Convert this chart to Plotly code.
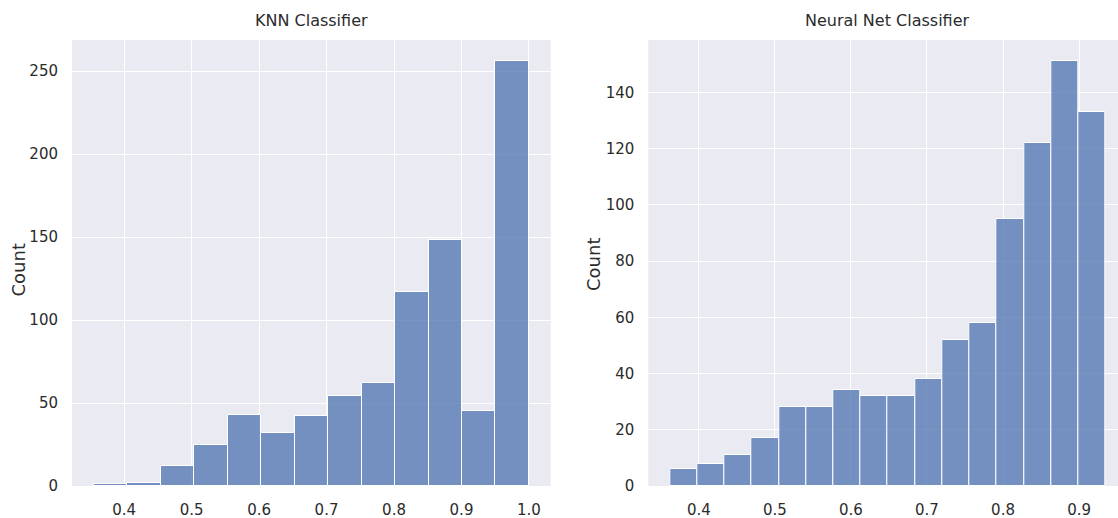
import numpy as np
import plotly.graph_objects as go

# ---- data ----
knn_title = "KNN Classifier"
knn_bin_min, knn_bin_max = 0.355, 1.0
knn_counts = [1, 2, 12, 25, 43, 32, 42, 54, 62, 117, 148, 45, 256]
knn_yticks = [0, 50, 100, 150, 200, 250]
knn_xticks = [0.4, 0.5, 0.6, 0.7, 0.8, 0.9, 1.0]

nn_title = "Neural Net Classifier"
nn_bin_min, nn_bin_max = 0.3622, 0.9347
nn_counts = [6, 8, 11, 17, 28, 28, 34, 32, 32, 38, 52, 58, 95, 122, 151, 133]
nn_yticks = [0, 20, 40, 60, 80, 100, 120, 140]
nn_xticks = [0.4, 0.5, 0.6, 0.7, 0.8, 0.9]

W, H = 1118, 518
BG = "#eaeaf2"
BAR = "rgba(76,114,176,0.75)"
TXT = "#2b2b2b"
FAM = "DejaVu Sans"
TICKFONT = dict(family=FAM, size=15, color=TXT)


def bars(counts, lo, hi, xa, ya):
    edges = np.linspace(lo, hi, len(counts) + 1)
    centers = (edges[:-1] + edges[1:]) / 2
    width = edges[1] - edges[0]
    return go.Bar(x=centers, y=counts, width=width, xaxis=xa, yaxis=ya,
                  marker=dict(color=BAR, line=dict(color="white", width=1)),
                  showlegend=False, hoverinfo="x+y")


fig = go.Figure()
fig.add_trace(bars(knn_counts, knn_bin_min, knn_bin_max, "x", "y"))
fig.add_trace(bars(nn_counts, nn_bin_min, nn_bin_max, "x2", "y2"))

ytop = 1 - 40 / H
ybot = 1 - 486 / H


def xaxis(dom, rng, ticks, anchor):
    return dict(domain=dom, range=rng, tickvals=ticks, ticktext=[f"{t:.1f}" for t in ticks],
                anchor=anchor, automargin=False,
                showgrid=True, gridcolor="white", gridwidth=1, zeroline=False, showline=False,
                tickfont=TICKFONT, ticks="", ticklabelstandoff=13, fixedrange=True)


def yaxis(dom, rng, ticks, anchor):
    return dict(domain=dom, range=rng, tickvals=ticks, anchor=anchor, automargin=False,
                showgrid=True, gridcolor="white", gridwidth=1, zeroline=False, showline=False,
                tickfont=TICKFONT, ticks="", ticklabelstandoff=13, fixedrange=True)


left_dom = [72 / W, 550.7 / W]
right_dom = [648.3 / W, 1.0]

fig.update_layout(
    width=W, height=H,
    margin=dict(l=0, r=0, t=0, b=0, pad=0, autoexpand=False),
    paper_bgcolor="white",
    plot_bgcolor=BG,
    bargap=0,
    xaxis=xaxis(left_dom, [0.3228, 1.0322], knn_xticks, "y"),
    yaxis=yaxis([ybot, ytop], [0, 268.7], knn_yticks, "x"),
    xaxis2=xaxis(right_dom, [0.3336, 0.9512], nn_xticks, "y2"),
    yaxis2=yaxis([ybot, ytop], [0, 158.6], nn_yticks, "x2"),
)

TITLEFONT = dict(family=FAM, size=16, color=TXT)
LABELFONT = dict(family=FAM, size=18, color=TXT)

ann = [
    dict(text=knn_title, x=311.3 / W, y=1 - 20 / H, font=TITLEFONT),
    dict(text=nn_title, x=887.7 / W, y=1 - 20 / H, font=TITLEFONT),
    dict(text="Count", x=17.5 / W, y=1 - 270 / H, font=LABELFONT, textangle=-90),
    dict(text="Count", x=593 / W, y=1 - 265 / H, font=LABELFONT, textangle=-90),
]
for a in ann:
    fig.add_annotation(xref="paper", yref="paper", xanchor="center", yanchor="middle",
                       showarrow=False, **a)

fig.write_html("out.html")
